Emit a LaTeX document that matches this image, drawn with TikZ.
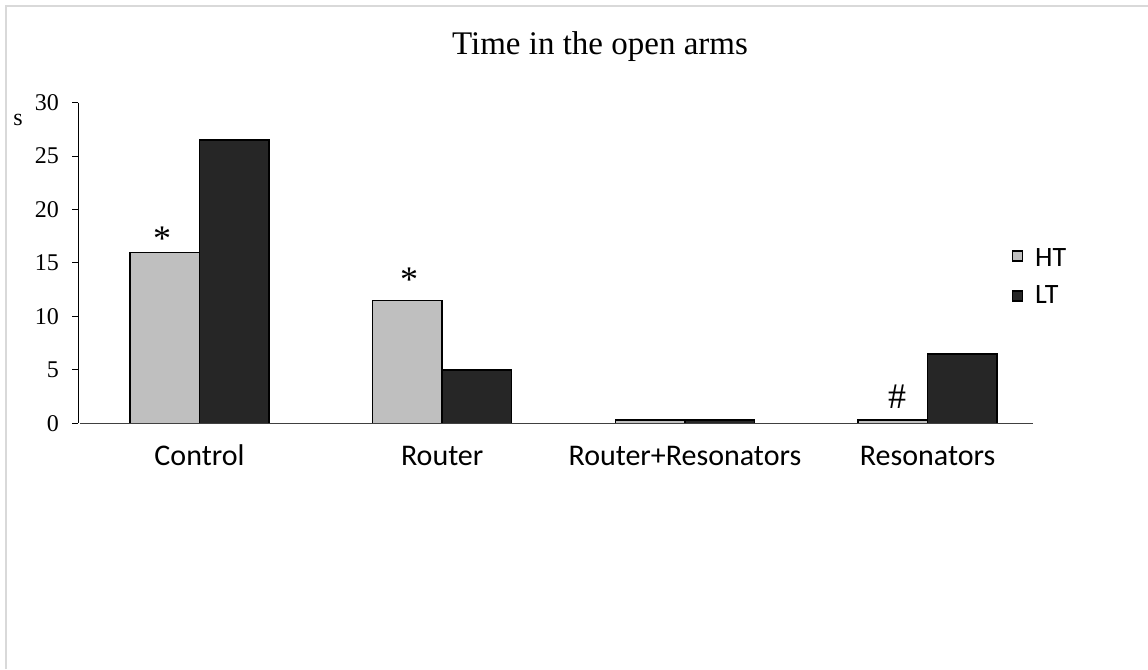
\documentclass[tikz,border=0pt]{standalone}
\usepackage{fontspec}
\setmainfont{Liberation Serif}
\newfontfamily\catfont{Carlito}

\definecolor{frameGray}{HTML}{D9D9D9}
\definecolor{htFill}{HTML}{BFBFBF}
\definecolor{ltFill}{HTML}{262626}
\definecolor{axisGray}{HTML}{404040}

\tikzset{
  frame/.style={draw=frameGray, line width=2pt},
  axisline/.style={draw=black, line width=1pt},
  htbar/.style={draw=black, line width=1.5pt, fill=htFill},
  ltbar/.style={draw=black, line width=1.5pt, fill=ltFill},
  ticklabel/.style={anchor=east, inner sep=0pt, font=\fontsize{24}{24}\selectfont},
  catlabel/.style={anchor=base, inner sep=0pt, font=\catfont\fontsize{30}{30}\selectfont},
  legtext/.style={anchor=base west, inner sep=0pt, font=\catfont\fontsize{28}{28}\selectfont},
  legbox/.style={draw=black, line width=1.3pt, minimum width=10pt, minimum height=10pt, inner sep=0pt},
  sigmark/.style={anchor=center, inner sep=0pt, font=\fontsize{36}{36}\selectfont},
}

% value -> vertical position (y grows downward)
\def\zeroY{423.3}
\def\unitY{10.69}

\begin{document}
\begin{tikzpicture}[x=1pt, y=-1pt]
\useasboundingbox (0,0) rectangle (1148,669);

% outer frame (top and left edges)
\draw[frame] (6,669) -- (6,6) -- (1148,6);

% title
\node[anchor=base, inner sep=0pt, font=\fontsize{33}{33}\selectfont] (title) at (600,55) {Time in the open arms};

% y axis with ticks and labels
\draw[axisline] (78,{\zeroY-30*\unitY}) -- (78,\zeroY);
\foreach \v in {0,5,...,30}{
  \draw[axisline] (72,{\zeroY-\v*\unitY}) -- (78,{\zeroY-\v*\unitY});
  \node[ticklabel] (tick\v) at (59,{\zeroY-\v*\unitY}) {\v};
}
\node[anchor=center, inner sep=0pt, font=\fontsize{24}{24}\selectfont] (unit) at (18,120) {s};

% bars: group start, HT value, LT value
\foreach \i/\h/\l in {0/16/26.5, 1/11.5/5, 2/0.3/0.3, 3/0.3/6.5}{
  \pgfmathsetmacro{\xs}{130+242.7*\i}
  \draw[htbar] (\xs,\zeroY) rectangle ({\xs+69.5},{\zeroY-\h*\unitY});
  \draw[ltbar] ({\xs+69.5},\zeroY) rectangle ({\xs+139},{\zeroY-\l*\unitY});
}

% category axis
\draw[draw=axisGray, line width=1pt] (80,\zeroY) -- (1033,\zeroY);

% category labels
\node[catlabel] (catA) at (199.5,465) {Control};
\node[catlabel] (catB) at (442.2,465) {Router};
\node[catlabel] (catC) at (684.9,465) {Router+Resonators};
\node[catlabel] (catD) at (927.6,465) {Resonators};

% significance marks
\node[sigmark] (starA) at (162,239) {*};
\node[sigmark] (starB) at (409,280) {*};
\node[anchor=center, inner sep=0pt, font=\fontsize{36}{36}\selectfont] (hashD) at (897,396.5) {\#};

% legend
\node[legbox, fill=htFill] (legHT) at (1017.5,256) {};
\node[legtext] (legHTtext) at (1035,266) {HT};
\node[legbox, fill=ltFill] (legLT) at (1017.5,296) {};
\node[legtext] (legLTtext) at (1035,303) {LT};
\end{tikzpicture}
\end{document}
